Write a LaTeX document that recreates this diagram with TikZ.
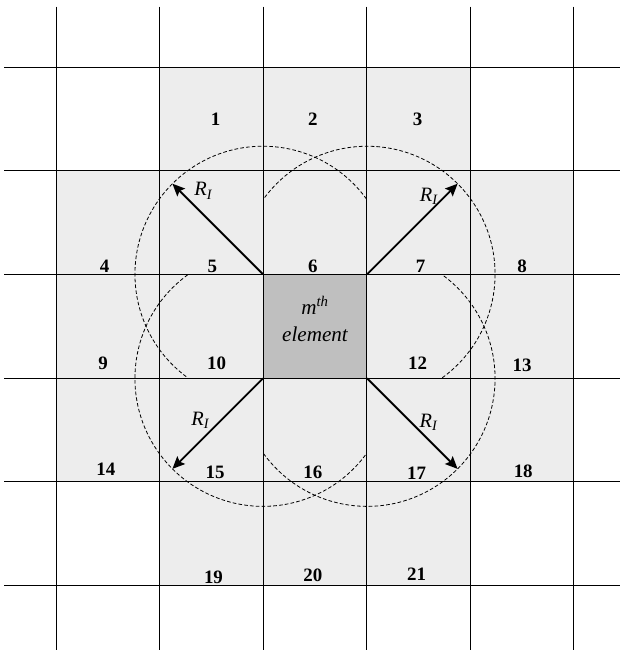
\documentclass[tikz,border=0pt]{standalone}
\usepackage{fontspec}
\setmainfont{Liberation Serif}
\usepackage{xcolor}
\usetikzlibrary{arrows.meta,positioning}

\definecolor{lightcell}{gray}{0.93}
\definecolor{darkcell}{gray}{0.75}

\begin{document}
\begin{tikzpicture}[
    x=2.5cm, y=2.5cm,
    gridline/.style={line width=0.7pt},
    ring/.style={dash pattern=on 2.5pt off 1.5pt, line width=0.55pt},
    rarr/.style={-{Stealth[length=8.5pt,width=7.5pt,inset=1.5pt]}, line width=1.25pt},
    num/.style={font=\fontsize{13}{15}\selectfont\bfseries, anchor=base, inner sep=0pt},
    rlab/.style={font=\fontsize{14}{16}\selectfont\itshape, anchor=base, inner sep=0pt},
    elembox/.style={fill=darkcell, minimum size=2.5cm, inner sep=0pt},
    elemtext/.style={align=center, inner sep=0pt, font=\fontsize{14.5}{18.5}\selectfont\itshape}
]
\useasboundingbox (-0.541,0.65) rectangle (5.444,-5.625);

% shaded neighbourhood
\fill[lightcell] (1,0) rectangle (4,-1);
\fill[lightcell] (0,-1) rectangle (5,-4);
\fill[lightcell] (1,-4) rectangle (4,-5);
\node[elembox] (elem) at (2.5,-2.5) {};
\node[elemtext] (elemlab) at (2.5,-2.43) {m\textsuperscript{th}\\element};

% grid
\foreach \i in {0,...,5} {
    \draw[gridline] (\i,0.585) -- (\i,-5.625);
    \draw[gridline] (-0.502,-\i) -- (5.444,-\i);
}

% cell numbers
\foreach \n/\x/\y in {1/1.54/-0.557, 2/2.48/-0.557, 3/3.49/-0.557,
    4/0.47/-1.98, 5/1.51/-1.98, 6/2.48/-1.98, 7/3.52/-1.98, 8/4.50/-1.98,
    9/0.455/-2.92, 10/1.55/-2.92, 12/3.49/-2.915, 13/4.50/-2.938,
    14/0.48/-3.94, 15/1.535/-3.97, 16/2.48/-3.97, 17/3.48/-3.98, 18/4.51/-3.96,
    19/1.52/-4.98, 20/2.48/-4.965, 21/3.48/-4.95}
    \node[num] (n\n) at (\x,\y) {\n};

% influence circles around the corners
\pgfmathsetmacro{\rad}{1.2355}
\pgfmathsetmacro{\ang}{acos(1/\rad)}
\draw[ring] (elem.north west) ++(\ang:\rad) arc[start angle=\ang, end angle=270-\ang, radius=\rad];
\draw[ring] (elem.north east) ++(\ang-90:\rad) arc[start angle=\ang-90, end angle=180-\ang, radius=\rad];
\draw[ring] (elem.south west) ++(90+\ang:\rad) arc[start angle=90+\ang, end angle=360-\ang, radius=\rad];
\draw[ring] (elem.south east) ++(180+\ang:\rad) arc[start angle=180+\ang, end angle=450-\ang, radius=\rad];

% radii
\path (elem.north west) ++(135:\rad) coordinate (tipNW);
\path (elem.north east) ++(45:\rad) coordinate (tipNE);
\path (elem.south west) ++(225:\rad) coordinate (tipSW);
\path (elem.south east) ++(315:\rad) coordinate (tipSE);
\draw[rarr] (elem.north west) -- (tipNW);
\draw[rarr] (elem.north east) -- (tipNE);
\draw[rarr] (elem.south west) -- (tipSW);
\draw[rarr] (elem.south east) -- (tipSE);

\path (elem.north west) ++(-0.575,0.756) node[rlab] (rNW) {R\textsubscript{I}};
\path (elem.north east) ++(0.597,0.70) node[rlab] (rNE) {R\textsubscript{I}};
\path (elem.south west) ++(-0.604,-0.458) node[rlab] (rSW) {R\textsubscript{I}};
\path (elem.south east) ++(0.593,-0.474) node[rlab] (rSE) {R\textsubscript{I}};
\end{tikzpicture}
\end{document}
